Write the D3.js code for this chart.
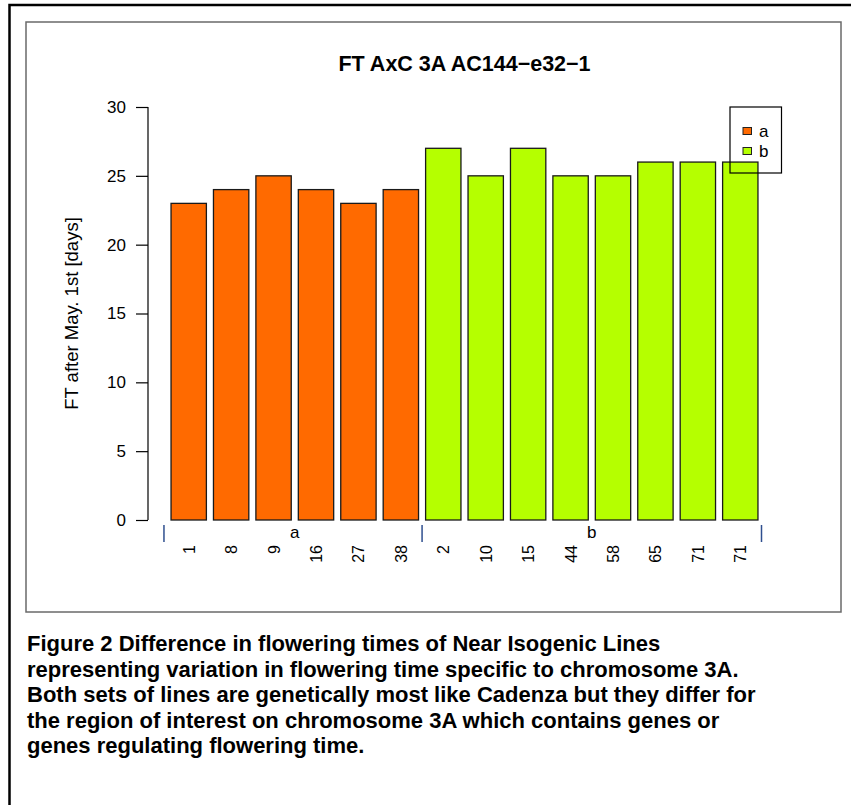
<!DOCTYPE html>
<html>
<head>
<meta charset="utf-8">
<script src="https://cdn.jsdelivr.net/npm/d3@7"></script>
<style>
  body { margin: 0; background: #fff; }
  svg { display: block; font-family: "Liberation Sans", Arial, sans-serif; }
</style>
</head>
<body>
<div id="chart-container"></div>
<script>
const lineNames = ["1", "8", "9", "16", "27", "38", "2", "10", "15", "44", "58", "65", "71", "71"];
const lineGroups = ["a", "a", "a", "a", "a", "a", "b", "b", "b", "b", "b", "b", "b", "b"];
const ftDays = [23, 24, 25, 24, 23, 24, 27, 25, 27, 25, 25, 26, 26, 26];
const groupNames = ["a", "b"];
const groupColors = ["#ff6a00", "#b5ff00"];
const yTicks = [0, 5, 10, 15, 20, 25, 30];
const titleText = "FT AxC 3A AC144\u2212e32\u22121";
const yLabel = "FT after May. 1st [days]";
const captionLines = [
  "Figure 2 Difference in flowering times of Near Isogenic Lines",
  "representing variation in flowering time specific to chromosome 3A.",
  "Both sets of lines are genetically most like Cadenza but they differ for",
  "the region of interest on chromosome 3A which contains genes or",
  "genes regulating flowering time.",
];

const W = 851, H = 805;
const svg = d3
  .select("#chart-container")
  .append("svg")
  .attr("width", W)
  .attr("height", H);

// outer frame (right and bottom fall outside the picture)
svg.append("rect")
  .attr("x", 9.5).attr("y", 5)
  .attr("width", W + 20).attr("height", H + 20)
  .attr("fill", "none").attr("stroke", "#000").attr("stroke-width", 2.5);

// figure box
svg.append("rect")
  .attr("x", 26).attr("y", 22)
  .attr("width", 815).attr("height", 590)
  .attr("fill", "#fff").attr("stroke", "#6a6a6a").attr("stroke-width", 1.5);

const idx = d3.range(ftDays.length);
const xAxis = d3.scaleBand()
  .domain(idx)
  .range([167.5, 761.5])
  .paddingInner(1 / 6)
  .paddingOuter(1 / 12);
const yAxis = d3.scaleLinear().domain([0, 30]).range([520, 107]);
const color = d3.scaleOrdinal().domain(groupNames).range(groupColors);
const bw = xAxis.bandwidth();
const gap = xAxis.step() - bw;

// title
svg.append("text")
  .attr("x", 464.5).attr("y", 71)
  .attr("text-anchor", "middle")
  .style("font-size", "21.5px").style("font-weight", "bold")
  .text(titleText);

// y axis
const gy = svg.append("g")
  .attr("transform", "translate(148,0)")
  .call(d3.axisLeft(yAxis).tickValues(yTicks).tickSize(12).tickPadding(10));
gy.select(".domain").attr("stroke", "#000").attr("stroke-width", 1.2)
  .attr("d", "M0," + yAxis(30) + "V" + yAxis(0));
gy.selectAll(".tick line").attr("stroke", "#000").attr("stroke-width", 1.2);
gy.selectAll(".tick text").style("font-size", "17px").attr("fill", "#000")
  .style("font-family", "'Liberation Sans', Arial, sans-serif");

svg.append("text")
  .attr("transform", "translate(78," + (yAxis(0) + yAxis(30)) / 2 + ") rotate(-90)")
  .attr("text-anchor", "middle")
  .style("font-size", "18.5px")
  .text(yLabel);

// bars
svg.append("g")
  .selectAll("rect")
  .data(idx)
  .enter()
  .append("rect")
  .attr("x", (i) => xAxis(i))
  .attr("y", (i) => yAxis(ftDays[i]))
  .attr("width", bw)
  .attr("height", (i) => yAxis(0) - yAxis(ftDays[i]))
  .attr("fill", (i) => color(lineGroups[i]))
  .attr("stroke", "#1a1a1a")
  .attr("stroke-width", 1.3);

// line names under the bars
svg.append("g")
  .selectAll("text")
  .data(idx)
  .enter()
  .append("text")
  .attr("transform", (i) => "translate(" + (xAxis(i) + bw / 2 + 6) + ",545) rotate(-90)")
  .attr("text-anchor", "end")
  .style("font-size", "16px")
  .text((i) => lineNames[i]);

// group separators and group names
const firstOf = groupNames.map((g) => lineGroups.indexOf(g));
const lastOf = groupNames.map((g) => lineGroups.lastIndexOf(g));
const sepX = [xAxis(firstOf[0]) - gap]
  .concat(firstOf.slice(1).map((i) => xAxis(i) - gap / 2))
  .concat([xAxis(lastOf[lastOf.length - 1]) + bw + gap / 2]);
svg.append("g")
  .selectAll("line")
  .data(sepX)
  .enter()
  .append("line")
  .attr("x1", (d) => d).attr("x2", (d) => d)
  .attr("y1", 525).attr("y2", 542)
  .attr("stroke", "#2f4f8f").attr("stroke-width", 1.5);

svg.append("g")
  .selectAll("text")
  .data(groupNames)
  .enter()
  .append("text")
  .attr("x", (g, k) => (xAxis(firstOf[k]) + xAxis(lastOf[k]) + bw) / 2)
  .attr("y", 538)
  .attr("text-anchor", "middle")
  .style("font-size", "17px")
  .text((g) => g);

// legend (no fill, sits over the last bar)
const legend = svg.append("g");
legend.append("rect")
  .attr("x", 730).attr("y", 107)
  .attr("width", 51.5).attr("height", 66)
  .attr("fill", "none").attr("stroke", "#000").attr("stroke-width", 1.2);
const legendRows = legend.selectAll("g.row")
  .data(groupNames)
  .enter()
  .append("g")
  .attr("class", "row")
  .attr("transform", (g, k) => "translate(743," + (131 + k * 20) + ")");
legendRows.append("rect")
  .attr("x", 0).attr("y", -3.5)
  .attr("width", 8.5).attr("height", 7)
  .attr("fill", (g) => color(g))
  .attr("stroke", "#222").attr("stroke-width", 1);
legendRows.append("text")
  .attr("x", 16).attr("y", 6)
  .style("font-size", "17px")
  .text((g) => g);

// caption
svg.append("g")
  .selectAll("text")
  .data(captionLines)
  .enter()
  .append("text")
  .attr("x", 27)
  .attr("y", (d, i) => 651 + i * 25.5)
  .style("font-size", "22px")
  .style("font-weight", "bold")
  .text((d) => d);
</script>
</body>
</html>
